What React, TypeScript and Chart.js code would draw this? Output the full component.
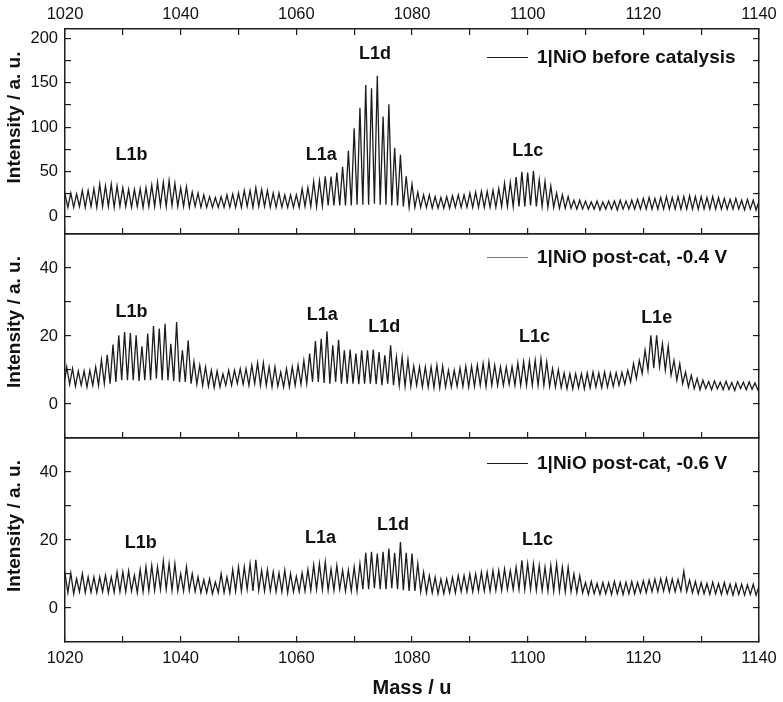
import React, { useEffect, useRef } from "react";
import { Chart, registerables } from "chart.js";

Chart.register(...registerables);

// ---------- data ----------
const X_MIN = 1020;
const X_MAX = 1140;
const X_TICK_VALUES = [1020, 1030, 1040, 1050, 1060, 1070, 1080, 1090, 1100, 1110, 1120, 1130, 1140];
const X_TICK_LABELS = [1020, 1040, 1060, 1080, 1100, 1120, 1140];

const TOP_Y_TICK_VALUES = [0, 25, 50, 75, 100, 125, 150, 175, 200];
const TOP_Y_TICK_LABELS = [0, 50, 100, 150, 200];
const LOW_Y_TICK_VALUES = [0, 10, 20, 30, 40];
const LOW_Y_TICK_LABELS = [0, 20, 40];

const SERIES_LABELS = ["1|NiO before catalysis", "1|NiO post-cat, -0.4 V", "1|NiO post-cat, -0.6 V"];
const X_TITLE = "Mass / u";
const Y_TITLE = "Intensity / a. u.";

// mass of the first isotope peak of each trace (peaks repeat every 1 u)
const TOP_FIRST_PEAK = 1020;
const MID_FIRST_PEAK = 1020.3;
const BOT_FIRST_PEAK = 1020;

// peak maxima (121 values, one per u)
const TOP_PEAKS = [
  25, 26, 25, 29, 29, 31, 36, 34, 36, 34,
  32, 30, 30, 31, 32, 35, 38, 38, 40, 37,
  32, 33, 27, 26, 24, 22, 21, 22, 24, 25,
  26, 29, 29, 32, 30, 29, 26, 26, 24, 24,
  24, 31, 32, 39, 40, 45, 44.6, 49, 55.5, 73.5,
  99, 122, 147.5, 144, 158, 112, 126, 77, 69, 45,
  36, 27, 24, 24, 22, 21, 22, 23, 24, 24,
  26, 27, 28, 28, 29, 31, 37, 38, 44, 50,
  49, 51, 41, 39, 34, 26, 24, 22, 18, 18,
  17, 16, 17, 16, 17, 17, 18, 17, 18, 19,
  20, 21, 20, 21, 22, 21, 22, 22, 23, 22,
  22, 21, 22, 21, 20, 19, 20, 18, 19, 18,
  17,
];
// minima half-way between peaks (121 values, first one 0.5 u before the first peak)
const TOP_TROUGHS = [
  10,
  10, 10, 11, 10, 11, 10, 11, 11, 10, 11,
  11, 10, 11, 10, 11, 11, 12, 11, 12, 11,
  11, 10, 11, 10, 10, 10, 10, 10, 10, 10,
  10, 11, 10, 11, 11, 10, 10, 10, 10, 10,
  10, 11, 11, 11, 12, 12, 12, 12, 12, 12,
  13, 13, 13, 14, 13, 13, 12, 12, 11, 10,
  10, 10, 10, 9, 9, 9, 9, 10, 10, 10,
  10, 10, 10, 10, 10, 11, 11, 11, 11, 11,
  12, 11, 11, 10, 10, 9, 9, 9, 8, 8,
  8, 8, 7, 8, 8, 7, 8, 8, 8, 8,
  8, 8, 8, 8, 8, 8, 8, 8, 8, 8,
  8, 8, 8, 8, 8, 8, 8, 7, 8, 7,
];

const MID_PEAKS = [
  10.9, 10.4, 9.7, 9.7, 9.9, 10.9, 13, 14.5, 17.5, 20.2,
  21.2, 20.9, 20.2, 17, 20.7, 22.9, 22.2, 23.6, 17.7, 24.1,
  15.8, 18.7, 12.4, 11.4, 10.9, 9.9, 9.7, 8.9, 9.9, 9.9,
  10.4, 10.4, 11.4, 12.1, 12.1, 10.9, 10.9, 9.4, 10.4, 10.9,
  11.4, 12.8, 14.8, 18.5, 19.2, 21.4, 17.3, 18.9, 15.8, 16,
  14.8, 15.8, 15.8, 16, 15.3, 14.3, 17.3, 13.8, 13.8, 13,
  11.1, 10.9, 10.9, 10.9, 11.4, 11.1, 9.9, 9.9, 10.6, 11.1,
  11.1, 11.4, 11.9, 12.4, 11.4, 10.9, 10.9, 11, 12.1, 12.4,
  12.6, 12.8, 13.3, 12.4, 10.4, 10.1, 9.1, 8.9, 8.9, 8.9,
  9.1, 9.4, 9.1, 9.4, 9.1, 9.2, 9.3, 9.9, 11.9, 12.8,
  15.8, 20.2, 20.2, 17.7, 17, 12.8, 11.9, 9.4, 8.4, 7.5,
  7, 6.6, 6.8, 6.4, 6.7, 6.3, 6.6, 6.4, 6.5, 6.2,
  6.3,
];
const MID_TROUGHS = [
  5.5,
  5.8, 5.2, 5.5, 5, 5.5, 5.5, 6, 6, 6.5, 7,
  7, 7, 6.8, 7, 7, 7.5, 7, 7, 6.8, 6.5,
  6.5, 6, 5.8, 5.5, 5.2, 4.8, 5, 5.5, 5.5, 6,
  5.8, 5.5, 6, 5.5, 5.5, 5, 5.2, 5, 5, 5.5,
  5.8, 6, 6.5, 6.5, 6.2, 6, 6.5, 6, 6, 6,
  5.8, 6, 6, 5.8, 5.5, 6, 5.5, 5.5, 5.2, 5.2,
  5.5, 5, 5, 4.8, 4.8, 5, 5, 5.2, 5.2, 5,
  5.2, 5.5, 5.2, 5.5, 5.5, 5.5, 5.8, 5.5, 5.5, 5.5,
  5.5, 5.5, 5.5, 5.2, 5, 4.8, 4.5, 4.5, 4.8, 4.5,
  4.8, 5, 4.8, 5, 5.2, 5.5, 5.8, 6.5, 7.5, 9,
  10, 10.5, 11, 10, 8.5, 7, 6, 5, 4.5, 4.2,
  4.5, 4.2, 4.5, 4.2, 4.3, 4, 4.5, 4.2, 4.3, 4.2,
];

const BOT_PEAKS = [
  10.1, 10.3, 8.6, 10.1, 9.1, 9.1, 9.1, 9.6, 9.1, 10.6,
  10.6, 10.9, 9.6, 11.3, 12.1, 12.5, 12.1, 13.8, 13, 13,
  10.1, 12.1, 10.1, 9.1, 8.3, 8.6, 7.6, 10.1, 9.1, 11.3,
  12.1, 12.1, 13, 14.2, 11.1, 11.3, 10.6, 10.3, 11.1, 10.1,
  9.3, 10.3, 11.3, 12.7, 13, 13.5, 11.5, 12.5, 11.1, 11.1,
  12.1, 13, 16.2, 16.5, 16, 16.5, 17.5, 16.2, 19.4, 16.2,
  16, 13, 10.5, 9.5, 9, 8.5, 8.5, 9, 9.5, 9.5,
  10, 10, 10.5, 10.5, 11, 11, 11.5, 11, 12, 14,
  13, 13, 12.5, 12, 12.5, 13, 12, 12, 10, 9.5,
  7.5, 7.8, 7.2, 7.5, 7.4, 7.8, 7.5, 7.6, 7.8, 7.5,
  8, 8.2, 8.5, 8.6, 8.8, 8.5, 8.4, 10.8, 8.2, 7.8,
  7.5, 7.2, 7.6, 7.2, 7.5, 7, 7.2, 7, 6.8, 7,
  6.5,
];
const BOT_TROUGHS = [
  4.6,
  4.5, 4.2, 4.8, 4.5, 4.6, 4.5, 4.8, 4.5, 4.6, 4.8,
  4.8, 5, 4.5, 4.8, 5, 5.2, 5.5, 5.5, 5.2, 5,
  5, 5.2, 4.8, 4.5, 4.5, 4.2, 4.5, 4.5, 4.5, 5,
  5, 5.5, 5, 5.2, 5, 5, 4.8, 4.8, 4.5, 4.8,
  4.8, 5, 5.2, 5.5, 5.5, 5.2, 5.2, 5.5, 5, 5,
  5, 5.5, 5.5, 5.8, 5.5, 5.5, 5.8, 5.5, 5.2, 5,
  5, 4.8, 4.5, 4.5, 4.2, 4.2, 4.5, 4.5, 4.8, 4.8,
  4.8, 5, 5, 5, 5.2, 5.2, 5.5, 5.5, 5.5, 5.5,
  5.5, 5.2, 5.2, 5, 5, 5, 4.8, 4.8, 4.5, 4.5,
  4, 4.2, 4, 4.2, 4, 4.2, 4, 4.2, 4.2, 4.5,
  4.5, 4.8, 4.8, 5, 4.8, 4.8, 5, 4.8, 4.5, 4.2,
  4.2, 4, 4.2, 4, 4.2, 3.8, 4, 3.8, 4, 3.8,
];

// peak-group labels (mass, intensity)
const TOP_NOTES = [
  { text: "L1b", x: 1031.5, y: 69 },
  { text: "L1a", x: 1064.3, y: 69 },
  { text: "L1d", x: 1073.6, y: 182 },
  { text: "L1c", x: 1100.0, y: 73.5 },
];
const MID_NOTES = [
  { text: "L1b", x: 1031.5, y: 27 },
  { text: "L1a", x: 1064.5, y: 26.1 },
  { text: "L1d", x: 1075.2, y: 22.6 },
  { text: "L1c", x: 1101.2, y: 19.7 },
  { text: "L1e", x: 1122.3, y: 25.4 },
];
const BOT_NOTES = [
  { text: "L1b", x: 1033.1, y: 19.1 },
  { text: "L1a", x: 1064.2, y: 20.6 },
  { text: "L1d", x: 1076.7, y: 24.3 },
  { text: "L1c", x: 1101.7, y: 19.9 },
];

// ---------- chart construction ----------
const W = 783;
const H = 702;
const FONT = '"Liberation Sans", Arial, Helvetica, sans-serif';
const INK = "#111";
const AXIS = "#1e1e1e";

function buildSeries(firstPeak: number, peaks: number[], troughs: number[]) {
  const pts: { x: number; y: number }[] = [];
  peaks.forEach((p, i) => {
    if (i < troughs.length) pts.push({ x: firstPeak - 0.5 + i, y: troughs[i] });
    pts.push({ x: firstPeak + i, y: p });
  });
  return pts;
}

const decorPlugin = {
  id: "panelDecor",
  afterDatasetsDraw(chart: any, _args: any, opts: any) {
    const { ctx, chartArea, scales } = chart;
    const xs = scales.x;
    const ys = scales.y;
    ctx.save();
    ctx.fillStyle = INK;
    ctx.font = `bold 18px ${FONT}`;
    ctx.textAlign = "center";
    ctx.textBaseline = "middle";
    (opts.notes || []).forEach((n: any) => {
      ctx.fillText(n.text, xs.getPixelForValue(n.x), ys.getPixelForValue(n.y));
    });
    // legend entry
    const ds = chart.data.datasets[0];
    const ly = chartArea.top + opts.legendDy;
    const tx = chartArea.left + 472;
    ctx.strokeStyle = opts.legendLineColor || ds.borderColor;
    ctx.lineWidth = 1;
    ctx.beginPath();
    ctx.moveTo(tx - 50, ly + 0.5);
    ctx.lineTo(tx - 9, ly + 0.5);
    ctx.stroke();
    ctx.font = `bold 19px ${FONT}`;
    ctx.textAlign = "left";
    ctx.fillText(ds.label, tx, ly + 1);
    // y-axis title
    ctx.save();
    ctx.translate(14.5, (chartArea.top + chartArea.bottom) / 2 - 14);
    ctx.rotate(-Math.PI / 2);
    ctx.textAlign = "center";
    ctx.font = `bold 19px ${FONT}`;
    ctx.fillText(Y_TITLE, 0, 0);
    ctx.restore();
    ctx.restore();
  },
};

interface PanelSpec {
  label: string;
  firstPeak: number;
  peaks: number[];
  troughs: number[];
  yMin: number;
  yMax: number;
  yTicks: number[];
  yLabels: number[];
  padTop: number;
  padBottom: number;
  topAxisHeight: number;
  topLabels: boolean;
  topTicks: boolean;
  bottomAxisHeight: number;
  bottomLabels: boolean;
  xTitle: boolean;
  notes: any[];
  legendDy: number;
  legendLineColor?: string;
}

function setTicks(values: number[]) {
  return (scale: any) => {
    scale.ticks = values.map((v) => ({ value: v }));
  };
}

function fixSize(dim: "width" | "height", size: number) {
  return (s: any) => {
    s[dim] = size;
    s.paddingLeft = 0;
    s.paddingRight = 0;
    s.paddingTop = 0;
    s.paddingBottom = 0;
  };
}

function makeConfig(p: PanelSpec): any {
  const tickFont = { family: FONT, size: 16.5 };
  const grid = (draw: boolean) => ({
    display: true,
    drawOnChartArea: false,
    drawTicks: draw,
    tickLength: -6,
    color: AXIS,
    lineWidth: 1.2,
  });
  const border = { display: true, color: AXIS, width: 1.5 };
  return {
    type: "line",
    data: {
      datasets: [
        {
          label: p.label,
          data: buildSeries(p.firstPeak, p.peaks, p.troughs),
          borderColor: "#1c1c1c",
          borderWidth: 1.3,
          pointRadius: 0,
          fill: false,
          tension: 0,
          xAxisID: "x",
          yAxisID: "y",
        },
      ],
    },
    options: {
      animation: false,
      responsive: false,
      maintainAspectRatio: false,
      events: [],
      layout: { padding: { top: p.padTop, bottom: p.padBottom, left: 0, right: 0 } },
      scales: {
        x: {
          type: "linear",
          position: "bottom",
          min: X_MIN,
          max: X_MAX,
          afterBuildTicks: setTicks(X_TICK_VALUES),
          afterFit: fixSize("height", p.bottomAxisHeight),
          ticks: {
            display: p.bottomLabels,
            autoSkip: false,
            maxRotation: 0,
            padding: 13,
            color: INK,
            font: tickFont,
            callback: (v: number) => (X_TICK_LABELS.includes(v) ? String(v) : ""),
          },
          grid: grid(true),
          border,
          title: {
            display: p.xTitle,
            text: X_TITLE,
            color: INK,
            font: { family: FONT, size: 20, weight: "bold" },
            padding: { top: 0, bottom: 2 },
          },
        },
        xTop: {
          type: "linear",
          position: "top",
          min: X_MIN,
          max: X_MAX,
          afterBuildTicks: setTicks(X_TICK_VALUES),
          afterFit: fixSize("height", p.topAxisHeight),
          ticks: {
            display: p.topLabels,
            autoSkip: false,
            maxRotation: 0,
            padding: 11,
            color: INK,
            font: tickFont,
            callback: (v: number) => (X_TICK_LABELS.includes(v) ? String(v) : ""),
          },
          grid: grid(p.topTicks),
          border,
        },
        y: {
          type: "linear",
          position: "left",
          min: p.yMin,
          max: p.yMax,
          afterBuildTicks: setTicks(p.yTicks),
          afterFit: fixSize("width", 65),
          ticks: {
            autoSkip: false,
            padding: 13,
            color: INK,
            font: tickFont,
            callback: (v: number) => (p.yLabels.includes(v) ? String(v) : ""),
          },
          grid: grid(true),
          border,
        },
        yRight: {
          type: "linear",
          position: "right",
          min: p.yMin,
          max: p.yMax,
          afterBuildTicks: setTicks(p.yTicks),
          afterFit: fixSize("width", 24),
          ticks: { display: false },
          grid: grid(true),
          border,
        },
      },
      plugins: {
        legend: { display: false },
        tooltip: { enabled: false },
        panelDecor: { notes: p.notes, legendDy: p.legendDy, legendLineColor: p.legendLineColor },
      },
    },
    plugins: [decorPlugin],
  };
}

const PANELS: PanelSpec[] = [
  {
    label: SERIES_LABELS[0],
    firstPeak: TOP_FIRST_PEAK,
    peaks: TOP_PEAKS,
    troughs: TOP_TROUGHS,
    yMin: -20,
    yMax: 210.5,
    yTicks: TOP_Y_TICK_VALUES,
    yLabels: TOP_Y_TICK_LABELS,
    padTop: 0,
    padBottom: H - 234,
    topAxisHeight: 29,
    topLabels: true,
    topTicks: true,
    bottomAxisHeight: 0,
    bottomLabels: false,
    xTitle: false,
    notes: TOP_NOTES,
    legendDy: 28,
  },
  {
    label: SERIES_LABELS[1],
    firstPeak: MID_FIRST_PEAK,
    peaks: MID_PEAKS,
    troughs: MID_TROUGHS,
    yMin: -10,
    yMax: 50,
    yTicks: LOW_Y_TICK_VALUES,
    yLabels: LOW_Y_TICK_LABELS,
    padTop: 234,
    padBottom: H - 438,
    topAxisHeight: 0,
    topLabels: false,
    topTicks: false,
    bottomAxisHeight: 0,
    bottomLabels: false,
    xTitle: false,
    notes: MID_NOTES,
    legendDy: 23,
    legendLineColor: "#777",
  },
  {
    label: SERIES_LABELS[2],
    firstPeak: BOT_FIRST_PEAK,
    peaks: BOT_PEAKS,
    troughs: BOT_TROUGHS,
    yMin: -10,
    yMax: 50,
    yTicks: LOW_Y_TICK_VALUES,
    yLabels: LOW_Y_TICK_LABELS,
    padTop: 438,
    padBottom: 0,
    topAxisHeight: 0,
    topLabels: false,
    topTicks: false,
    bottomAxisHeight: H - 642,
    bottomLabels: true,
    xTitle: true,
    notes: BOT_NOTES,
    legendDy: 25,
  },
];

export default function App() {
  const r0 = useRef<HTMLCanvasElement>(null);
  const r1 = useRef<HTMLCanvasElement>(null);
  const r2 = useRef<HTMLCanvasElement>(null);
  const refs = [r0, r1, r2];

  useEffect(() => {
    const charts = refs.map((r, i) => new Chart(r.current as HTMLCanvasElement, makeConfig(PANELS[i])));
    return () => charts.forEach((c) => c.destroy());
  }, []);

  return (
    <div style={{ position: "fixed", left: 0, top: 0, width: W, height: H, background: "#fff" }}>
      {refs.map((r, i) => (
        <canvas
          key={i}
          ref={r}
          width={W}
          height={H}
          style={{ position: "absolute", left: 0, top: 0, width: W, height: H }}
        />
      ))}
    </div>
  );
}
